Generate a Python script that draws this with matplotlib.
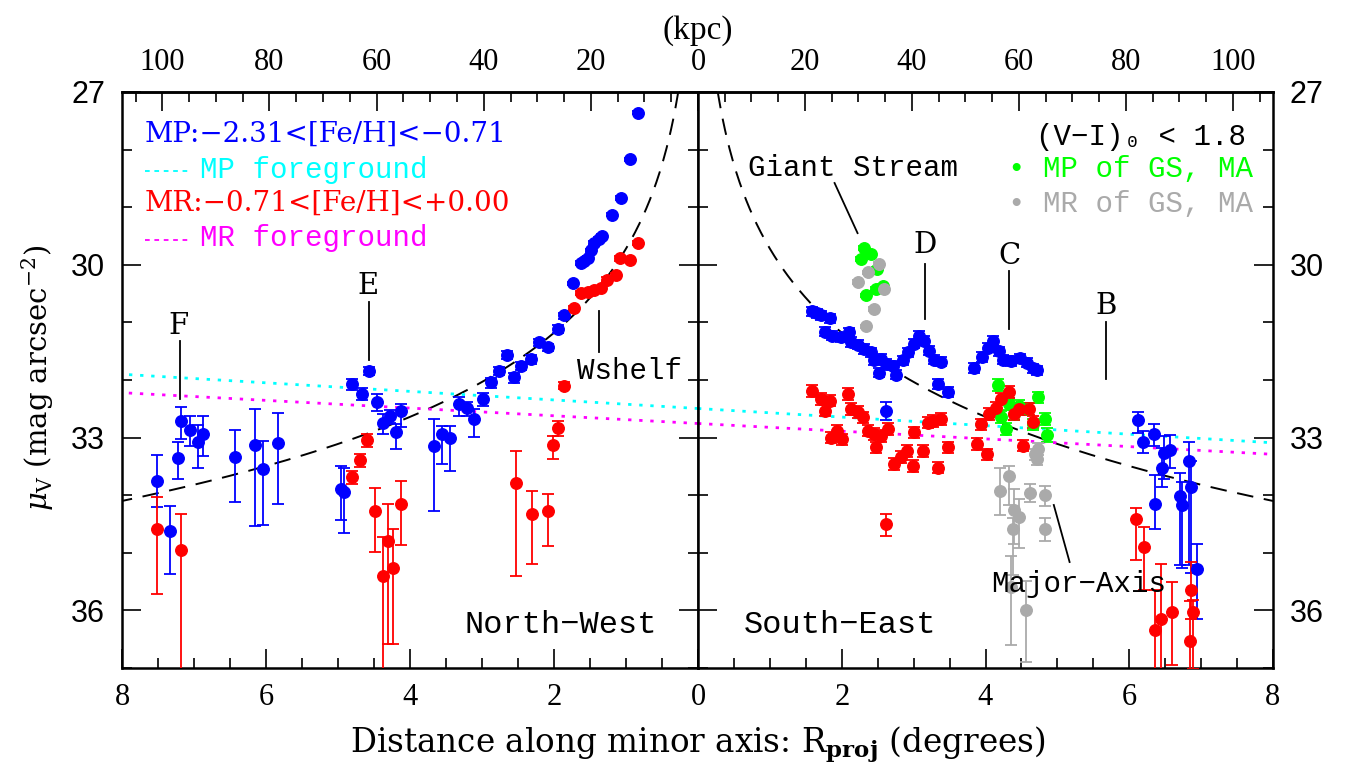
import numpy as np
import matplotlib
matplotlib.use("Agg")
import matplotlib.pyplot as plt
from matplotlib.ticker import MultipleLocator

plt.rcParams['mathtext.fontset'] = 'dejavuserif'

# ---------------------------------------------------------------- constants
KPC_PER_DEG = 13.44          # projected scale at the distance of M31
MODEL_MU_1DEG = 29.72        # power-law halo model: mu at R = 1 deg
MODEL_MAG_PER_DEX = 4.85     # power-law halo model: slope in mag per dex

# foreground levels along the signed minor-axis coordinate (NW < 0 < SE)
FG_S = [-8.0, 8.0]
FG_MP = [31.90, 33.09]
FG_MR = [32.22, 33.29]

# ---------------------------------------------------------------- North-West
nw_mp_r = [7.52, 7.34, 7.22, 7.18, 7.06, 6.95, 6.87, 6.43, 6.15, 6.04,
           5.83, 4.96, 4.92, 4.80, 4.67, 4.57, 4.46, 4.37, 4.28, 4.20,
           4.12, 3.67, 3.55, 3.44, 3.32, 3.21, 3.11, 2.99, 2.88, 2.76,
           2.65, 2.56, 2.46, 2.32, 2.21, 2.09, 1.95, 1.86, 1.74, 1.63,
           1.58, 1.53, 1.48, 1.44, 1.38, 1.33, 1.19, 1.07, 0.95, 0.84]
nw_mp_mu = [33.75, 34.62, 33.35, 32.72, 32.86, 33.07, 32.94, 33.33, 33.12, 33.55,
            33.09, 33.89, 33.94, 32.07, 32.24, 31.84, 32.38, 32.74, 32.62, 32.91,
            32.53, 33.14, 32.94, 33.00, 32.42, 32.48, 32.68, 32.33, 32.04, 31.84,
            31.57, 31.95, 31.75, 31.64, 31.34, 31.43, 31.11, 30.88, 30.32, 29.97,
            29.93, 29.88, 29.75, 29.62, 29.55, 29.50, 29.13, 28.84, 28.17, 27.36]
nw_mp_lo = [0.45, 0.43, 0.28, 0.25, 0.23, 0.29, 0.31, 0.47, 0.61, 0.49,
            0.51, 0.40, 0.42, 0.09, 0.10, 0.07, 0.14, 0.15, 0.10, 0.15,
            0.12, 0.47, 0.15, 0.21, 0.12, 0.10, 0.18, 0.10, 0.08, 0.07,
            0.07, 0.08, 0.07, 0.07, 0.06, 0.06, 0.06, 0.05, 0.03, 0.03,
            0.03, 0.03, 0.03, 0.03, 0.03, 0.03, 0.03, 0.03, 0.03, 0.03]
nw_mp_hi = [0.45, 0.75, 0.37, 0.31, 0.29, 0.45, 0.38, 0.79, 1.42, 0.97,
            1.06, 0.54, 0.72, 0.11, 0.10, 0.08, 0.15, 0.20, 0.12, 0.28,
            0.29, 1.13, 0.52, 0.58, 0.20, 0.15, 0.31, 0.12, 0.10, 0.08,
            0.07, 0.10, 0.08, 0.08, 0.07, 0.07, 0.07, 0.06, 0.03, 0.03,
            0.03, 0.03, 0.03, 0.03, 0.03, 0.03, 0.03, 0.03, 0.03, 0.03]

nw_mr_r = [7.52, 7.18, 4.81, 4.70, 4.60, 4.49, 4.38, 4.31, 4.23, 4.13,
           2.53, 2.30, 2.09, 2.01, 1.95, 1.86, 1.72, 1.63, 1.53, 1.44,
           1.35, 1.26, 1.14, 1.08, 0.95, 0.84]
nw_mr_mu = [34.59, 34.96, 33.68, 33.39, 33.04, 34.27, 35.40, 34.79, 35.26, 34.16,
            33.78, 34.32, 34.28, 33.12, 32.84, 32.10, 30.75, 30.49, 30.48, 30.44,
            30.41, 30.26, 30.18, 29.89, 29.92, 29.62]
nw_mr_lo = [0.56, 0.64, 0.10, 0.10, 0.10, 0.40, 0.68, 0.63, 0.68, 0.41,
            0.55, 0.40, 0.30, 0.15, 0.13, 0.06, 0.04, 0.04, 0.04, 0.04,
            0.04, 0.04, 0.04, 0.04, 0.04, 0.04]
nw_mr_hi = [1.12, 2.50, 0.12, 0.12, 0.12, 0.71, 2.00, 1.79, 1.32, 0.70,
            1.63, 0.87, 0.61, 0.25, 0.13, 0.06, 0.04, 0.04, 0.04, 0.04,
            0.04, 0.04, 0.04, 0.04, 0.04, 0.04]

# ---------------------------------------------------------------- South-East
se_mp_r = [1.59, 1.65, 1.71, 1.83, 1.76, 1.87, 1.99, 2.10, 2.13, 2.22,
           2.31, 2.41, 2.45, 2.55, 2.52, 2.62, 2.71, 2.76, 2.85, 2.92,
           3.01, 3.07, 3.15, 3.22, 3.29, 3.38, 3.34, 3.48, 2.61, 3.84,
           3.95, 4.04, 4.11, 4.19, 4.25, 4.36, 4.48, 4.58, 4.66, 4.71,
           6.12, 6.19, 6.35, 6.48, 6.57, 6.45, 6.36, 6.71, 6.73, 6.83,
           6.86, 6.94]
se_mp_mu = [30.81, 30.84, 30.88, 30.93, 31.16, 31.23, 31.26, 31.17, 31.34, 31.39,
            31.46, 31.52, 31.66, 31.63, 31.87, 31.72, 31.75, 31.91, 31.66, 31.52,
            31.37, 31.23, 31.32, 31.49, 31.65, 31.68, 32.07, 32.21, 32.53, 31.79,
            31.60, 31.44, 31.32, 31.50, 31.65, 31.67, 31.62, 31.70, 31.80, 31.83,
            32.70, 33.08, 32.94, 33.27, 33.21, 33.53, 34.15, 34.01, 34.17, 33.40,
            33.85, 35.28]
se_mp_lo = [0.08, 0.08, 0.08, 0.08, 0.08, 0.08, 0.08, 0.08, 0.08, 0.08,
            0.08, 0.08, 0.08, 0.08, 0.08, 0.08, 0.08, 0.08, 0.08, 0.08,
            0.08, 0.08, 0.08, 0.08, 0.08, 0.08, 0.08, 0.08, 0.14, 0.08,
            0.08, 0.08, 0.08, 0.08, 0.08, 0.08, 0.08, 0.08, 0.08, 0.08,
            0.14, 0.19, 0.18, 0.29, 0.26, 0.35, 0.50, 0.39, 0.40, 0.33,
            0.45, 0.44]
se_mp_hi = [0.08, 0.08, 0.08, 0.08, 0.08, 0.08, 0.08, 0.08, 0.08, 0.08,
            0.08, 0.08, 0.08, 0.08, 0.08, 0.08, 0.08, 0.08, 0.08, 0.08,
            0.08, 0.08, 0.08, 0.08, 0.08, 0.08, 0.08, 0.08, 0.16, 0.08,
            0.08, 0.08, 0.08, 0.08, 0.08, 0.08, 0.08, 0.08, 0.08, 0.08,
            0.22, 0.19, 0.20, 0.45, 0.32, 0.32, 0.43, 1.21, 1.10, 1.82,
            1.50, 0.87]

se_mr_r = [1.59, 1.71, 1.76, 1.83, 1.85, 1.94, 2.01, 2.09, 2.13, 2.22,
           2.29, 2.36, 2.45, 2.48, 2.55, 2.64, 2.73, 2.83, 2.91, 2.99,
           3.01, 3.13, 3.20, 3.27, 3.38, 3.34, 3.48, 3.88, 4.02, 3.94,
           4.05, 4.15, 4.22, 4.33, 4.40, 4.52, 4.60, 4.47, 4.66, 2.62,
           6.10, 6.21, 6.36, 6.44, 6.59, 6.86, 6.89, 6.84]
se_mr_mu = [32.19, 32.33, 32.53, 32.36, 33.00, 32.88, 33.03, 32.24, 32.50, 32.56,
            32.65, 32.88, 32.94, 33.17, 32.97, 32.85, 33.46, 33.34, 33.23, 33.49,
            32.91, 33.23, 32.74, 32.71, 32.68, 33.52, 33.17, 33.11, 33.29, 32.77,
            32.59, 32.48, 32.33, 32.21, 32.59, 33.14, 32.50, 32.50, 32.73, 34.50,
            34.42, 34.90, 36.34, 36.15, 36.02, 35.64, 36.02, 36.53]
se_mr_lo = [0.10, 0.10, 0.10, 0.10, 0.10, 0.10, 0.10, 0.10, 0.10, 0.10,
            0.10, 0.10, 0.10, 0.10, 0.10, 0.10, 0.10, 0.10, 0.10, 0.10,
            0.10, 0.10, 0.10, 0.10, 0.10, 0.10, 0.10, 0.10, 0.10, 0.10,
            0.10, 0.10, 0.10, 0.10, 0.10, 0.10, 0.10, 0.10, 0.10, 0.18,
            0.19, 0.35, 0.70, 0.96, 0.51, 0.48, 0.20, 0.70]
se_mr_hi = [0.10, 0.10, 0.10, 0.10, 0.10, 0.10, 0.10, 0.10, 0.10, 0.10,
            0.10, 0.10, 0.10, 0.10, 0.10, 0.10, 0.10, 0.10, 0.10, 0.10,
            0.10, 0.10, 0.10, 0.10, 0.10, 0.10, 0.10, 0.10, 0.10, 0.10,
            0.10, 0.10, 0.10, 0.10, 0.10, 0.10, 0.10, 0.10, 0.10, 0.20,
            0.70, 0.74, 1.50, 1.50, 0.93, 0.51, 1.00, 1.20]

# Giant Stream (GS) and Major-Axis (MA) fields, split by metallicity
gs_mp_r = [2.27, 2.31, 2.41, 2.49, 2.48, 2.57, 2.34,
           4.17, 4.33, 4.40, 4.47, 4.59, 4.73, 4.83, 4.85, 4.66, 4.29, 4.21]
gs_mp_mu = [29.90, 29.71, 29.81, 30.07, 30.42, 30.36, 30.53,
            32.09, 32.42, 32.59, 32.45, 32.50, 32.30, 32.68, 32.96, 32.77, 32.85, 32.64]
gs_mp_err = [0.03, 0.03, 0.03, 0.03, 0.03, 0.03, 0.03,
             0.10, 0.10, 0.10, 0.10, 0.10, 0.10, 0.10, 0.12, 0.10, 0.10, 0.10]

gs_mr_r = [2.22, 2.36, 2.52, 2.59, 2.45, 2.34,
           4.20, 4.33, 4.40, 4.47, 4.38, 4.62, 4.83, 4.83, 4.57, 4.36, 4.69, 4.71, 4.73]
gs_mr_mu = [30.30, 30.13, 29.98, 30.42, 30.77, 31.07,
            33.93, 33.67, 34.25, 34.37, 34.59, 33.96, 33.99, 34.59, 35.99, 35.60, 33.29, 33.37, 33.20]
gs_mr_lo = [0.03, 0.03, 0.03, 0.03, 0.03, 0.03,
            0.41, 0.18, 0.35, 0.30, 0.20, 0.15, 0.15, 0.20, 0.50, 0.55, 0.10, 0.10, 0.10]
gs_mr_hi = [0.03, 0.03, 0.03, 0.03, 0.03, 0.03,
            0.41, 0.50, 0.60, 0.55, 0.80, 0.15, 0.20, 0.20, 0.90, 1.00, 0.10, 0.10, 0.10]

# ---------------------------------------------------------------- figure
SERIF = 'DejaVu Serif'
TICKFONT = 'Liberation Serif'
SANS = 'Liberation Sans'
MONO = 'Liberation Mono'
MONO_FB = ['Liberation Mono', 'DejaVu Sans Mono']

BLUE, RED, CYAN, MAGENTA = '#0000ff', '#ff0000', '#00ffff', '#ff00ff'
GREEN, GREY = '#00ff00', '#aaaaaa'

W, H = 1346, 771
fig = plt.figure(figsize=(W / 100, H / 100), dpi=100)
x0, xm, x1 = 122 / W, 698 / W, 1273 / W
y0, y1 = 1 - 668 / H, 1 - 92 / H
axL = fig.add_axes([x0, y0, xm - x0, y1 - y0])
axR = fig.add_axes([xm, y0, x1 - xm, y1 - y0])


def deg2kpc(d):
    return np.asarray(d) * KPC_PER_DEG


def kpc2deg(k):
    return np.asarray(k) / KPC_PER_DEG


def frame(ax, reverse, ylab_side):
    ax.set_xlim((8, 0) if reverse else (0, 8))
    ax.set_ylim(37, 27)
    for sp in ax.spines.values():
        sp.set_linewidth(1.8)
    ax.xaxis.set_minor_locator(MultipleLocator(0.5))
    xt = [0, 2, 4, 6, 8]
    xl = ['0', '2', '4', '6', '8'] if reverse else ['', '2', '4', '6', '8']
    ax.set_xticks(xt, labels=xl, fontfamily=TICKFONT, fontsize=22)
    ax.yaxis.set_minor_locator(MultipleLocator(1))
    ax.set_yticks([27, 30, 33, 36], labels=['27', '30', '33', '36'],
                  fontfamily=SANS, fontsize=22)
    ax.tick_params(which='both', direction='in', top=False, bottom=True,
                   left=True, right=True, width=1.2, color='black')
    ax.tick_params(which='major', length=14)
    ax.tick_params(which='minor', length=7)
    ax.tick_params(axis='x', pad=11)
    if ylab_side == 'left':
        ax.tick_params(axis='y', labelleft=True, labelright=False, pad=12)
    else:
        ax.tick_params(axis='y', labelleft=False, labelright=True, pad=12)

    sec = ax.secondary_xaxis('top', functions=(deg2kpc, kpc2deg))
    kt = [0, 20, 40, 60, 80, 100]
    kl = [str(k) for k in kt] if reverse else [''] + [str(k) for k in kt[1:]]
    sec.set_xticks(kt, labels=kl, fontfamily=TICKFONT, fontsize=22)
    sec.xaxis.set_minor_locator(MultipleLocator(5))
    sec.tick_params(which='both', direction='in', width=1.2, pad=11)
    sec.tick_params(which='major', length=14)
    sec.tick_params(which='minor', length=7)
    sec.spines['top'].set_linewidth(1.8)


frame(axL, True, 'left')
frame(axR, False, 'right')

eb = dict(fmt='o', ms=8.3, elinewidth=1.3, capsize=4.5, capthick=1.3, zorder=3)

# model and foreground
r_model = np.linspace(0.22, 8.0, 500)
mu_model = MODEL_MU_1DEG + MODEL_MAG_PER_DEX * np.log10(r_model)
for ax, sign in ((axL, -1.0), (axR, 1.0)):
    ax.plot(r_model, mu_model, color='black', lw=1.4,
            linestyle=(0, (8.5, 5.5)), zorder=2)
    ends = np.array([0.0, 8.0])
    ax.plot(ends, np.interp(sign * ends, FG_S, FG_MP), color=CYAN, lw=2.0,
            linestyle=(0, (1.2, 2.8)), zorder=2)
    ax.plot(ends, np.interp(sign * ends, FG_S, FG_MR), color=MAGENTA, lw=2.0,
            linestyle=(0, (1.2, 2.8)), zorder=2)

# North-West data
axL.errorbar(nw_mp_r, nw_mp_mu, yerr=[nw_mp_lo, nw_mp_hi], color=BLUE, **eb)
axL.errorbar(nw_mr_r, nw_mr_mu, yerr=[nw_mr_lo, nw_mr_hi], color=RED, **eb)

# South-East data
axR.errorbar(se_mp_r, se_mp_mu, yerr=[se_mp_lo, se_mp_hi], color=BLUE, **eb)
axR.errorbar(gs_mp_r, gs_mp_mu, yerr=gs_mp_err, color=GREEN, **eb)
axR.errorbar(se_mr_r, se_mr_mu, yerr=[se_mr_lo, se_mr_hi], color=RED, **eb)
axR.errorbar(gs_mr_r, gs_mr_mu, yerr=[gs_mr_lo, gs_mr_hi], color=GREY, **eb)


# ---------------------------------------------------------------- annotations
def tag(ax, txt, x, y, line_x, line_y0, line_y1, font=SERIF, size=21):
    ax.text(x, y, txt, ha='center', va='center', fontfamily=font, fontsize=size,
            zorder=5)
    ax.plot([line_x, line_x], [line_y0, line_y1], color='black', lw=1.3, zorder=4)


tag(axL, 'F', 7.22, 31.06, 7.19, 31.32, 32.33)
tag(axL, 'E', 4.58, 30.36, 4.57, 30.64, 31.66)
tag(axL, 'Wshelf', 0.95, 31.84, 1.38, 30.81, 31.52, font=MONO, size=21)
tag(axR, 'D', 3.16, 29.66, 3.16, 29.98, 30.94)
tag(axR, 'C', 4.33, 29.85, 4.33, 30.10, 31.12)
tag(axR, 'B', 5.68, 30.72, 5.68, 31.00, 31.99)

axR.text(2.15, 28.32, 'Giant Stream', ha='center', va='center',
         fontfamily=MONO, fontsize=21, zorder=5)
axR.plot([1.90, 2.22], [28.58, 29.45], color='black', lw=1.3, zorder=4)
axR.text(5.30, 35.54, 'Major\u2212Axis', ha='center', va='center',
         fontfamily=MONO, fontsize=21, zorder=5)
axR.plot([4.95, 5.17], [34.17, 35.16], color='black', lw=1.3, zorder=4)

axL.text(1.91, 36.26, 'North\u2212West', ha='center', va='center',
         fontfamily=MONO, fontsize=23, zorder=5)
axR.text(1.97, 36.26, 'South\u2212East', ha='center', va='center',
         fontfamily=MONO, fontsize=23, zorder=5)

# key, North-West panel
axL.text(7.68, 27.73, 'MP:\u22122.31<[Fe/H]<\u22120.71', ha='left', va='center',
         fontfamily=SERIF, fontsize=20, color=BLUE, zorder=5)
axL.text(6.91, 28.35, 'MP foreground', ha='left', va='center',
         fontfamily=MONO, fontsize=21, color=CYAN, zorder=5)
axL.text(7.68, 28.93, 'MR:\u22120.71<[Fe/H]<+0.00', ha='left', va='center',
         fontfamily=SERIF, fontsize=20, color=RED, zorder=5)
axL.text(6.91, 29.54, 'MR foreground', ha='left', va='center',
         fontfamily=MONO, fontsize=21, color=MAGENTA, zorder=5)
for yk, ck in ((28.38, CYAN), (29.57, MAGENTA)):
    axL.plot([7.68, 7.05], [yk, yk], color=ck, lw=1.3,
             linestyle=(0, (2.6, 2.6)), zorder=5)

# key, South-East panel
axR.text(7.62, 27.78, '(V\u2212I)\u2080 < 1.8', ha='right', va='center',
         fontfamily=MONO_FB, fontsize=21, color='black', zorder=5)
axR.text(7.72, 28.33, '\u2022 MP of GS, MA', ha='right', va='center',
         fontfamily=MONO_FB, fontsize=21, color=GREEN, zorder=5)
axR.text(7.72, 28.94, '\u2022 MR of GS, MA', ha='right', va='center',
         fontfamily=MONO_FB, fontsize=21, color=GREY, zorder=5)

# axis titles
fig.text(xm, 1 - 31 / H, '(kpc)', ha='center', va='center',
         fontfamily=TICKFONT, fontsize=24)
fig.text(xm, 1 - 745 / H, r'Distance along minor axis: R$_{\mathbf{proj}}$ (degrees)',
         ha='center', va='center', fontfamily=SERIF, fontsize=23.5)
fig.text(38 / W, 1 - 378 / H, r'$\mu_{\rm V}$ (mag arcsec$^{-2}$)', rotation=90,
         ha='center', va='center', fontfamily=SERIF, fontsize=21)

fig.savefig('out.png', dpi=100)
